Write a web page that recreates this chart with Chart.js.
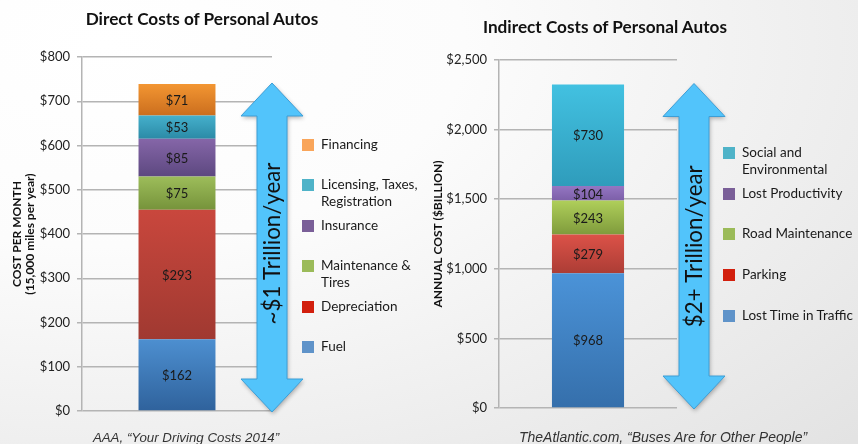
<!DOCTYPE html>
<html><head><meta charset="utf-8">
<script src="https://cdn.jsdelivr.net/npm/chart.js@4.4.1/dist/chart.umd.min.js"></script>
<style>
html,body{margin:0;padding:0;}
body{width:858px;height:444px;overflow:hidden;position:relative;
 background:radial-gradient(ellipse 120% 130% at 12% 10%, #ffffff 0%, #fcfcfc 35%, #e3e3e3 100%);
 font-family:Lato,"Open Sans",sans-serif;color:#1a1a1a;}
.cv{position:absolute;top:0;}
.title{position:absolute;font-weight:bold;font-size:17.2px;white-space:nowrap;transform:translate(-50%,-50%);color:#111;}
.cap{position:absolute;font-family:"Liberation Sans",Arial,sans-serif;font-style:italic;color:#333;white-space:nowrap;transform:translate(-50%,-50%);}
.leg{position:absolute;font-size:13.5px;line-height:17px;white-space:pre;color:#1a1a1a;}
.leg .sw{position:absolute;left:0;top:2px;width:12px;height:12px;}
.leg .tx{position:absolute;left:19px;top:-1px;}
</style></head>
<body>
<canvas id="c1" class="cv" width="430" height="444" style="left:0"></canvas>
<canvas id="c2" class="cv" width="428" height="444" style="left:430px"></canvas>
<div class="title" style="left:202px;top:18px">Direct Costs of Personal Autos</div>
<div class="title" style="left:605px;top:26px">Indirect Costs of Personal Autos</div>
<div class="cap" style="left:186px;top:437px;font-size:13.3px">AAA, “Your Driving Costs 2014”</div>
<div class="cap" style="left:663px;top:437px;font-size:14px">TheAtlantic.com, “Buses Are for Other People”</div>
<div id="leg1"></div><div id="leg2"></div>
<script>
// ---- Data ----
const directCategories = ['Fuel','Depreciation','Maintenance & Tires','Insurance','Licensing, Taxes, Registration','Financing'];
const directLegendLabels = ['Fuel','Depreciation','Maintenance &\nTires','Insurance','Licensing, Taxes,\nRegistration','Financing'];
const directValues = [162, 293, 75, 85, 53, 71];
const directTickMax = 800, directTickStep = 100;

const indirectCategories = ['Lost Time in Traffic','Parking','Road Maintenance','Lost Productivity','Social and Environmental'];
const indirectLegendLabels = ['Lost Time in Traffic','Parking','Road Maintenance','Lost Productivity','Social and\nEnvironmental'];
const indirectValues = [968, 279, 243, 104, 730];
const indirectTickMax = 2500, indirectTickStep = 500;

// ---- Styles ----
const directGrad = [['#4d8fd0','#2f629c'],['#c9473d','#a03931'],['#9dbd5a','#76933b'],['#8566a8','#5d4880'],['#45b0cc','#2b8aa6'],['#f39632','#cb6e1e']];
const directSwatch = ['#5f93c9','#d21f0d','#9bbb59','#7a5f98','#4fb3c8','#f9a55a'];
const indirectGrad = [['#4b93d8','#356fab'],['#dc5248','#ac3d35'],['#afcf5a','#7f9b3c'],['#9476c2','#7c5fa8'],['#42c1e1','#2f9cbb']];
const indirectSwatch = ['#5f93c9','#d21f0d','#9bbb59','#7a5f98','#4fb3c8'];

function cumul(vals){const r=[];let s=0;for(const v of vals){r.push([s,s+v]);s+=v;}return r;}

function makeDatasets(cats, vals, grads){
  const cum = cumul(vals);
  return cats.map((c,i)=>({
    label:c, data:[vals[i]], stack:'s',
    backgroundColor:(ctx)=>{
      const ch=ctx.chart; if(!ch.chartArea) return grads[i][0];
      const y=ch.scales.y;
      const g=ch.ctx.createLinearGradient(0,y.getPixelForValue(cum[i][1]),0,y.getPixelForValue(cum[i][0]));
      g.addColorStop(0,grads[i][0]); g.addColorStop(1,grads[i][1]); return g;
    },
    borderWidth:0, categoryPercentage:1, barPercentage:0.405
  }));
}

const labelPlugin = {
  id:'segLabels',
  afterDatasetsDraw(chart){
    const ctx=chart.ctx; ctx.save();
    ctx.font='13px Lato, sans-serif'; ctx.fillStyle='#1a1a1a';
    ctx.textAlign='center'; ctx.textBaseline='middle';
    chart.data.datasets.forEach((ds,i)=>{
      const el=chart.getDatasetMeta(i).data[0];
      ctx.fillText('$'+ds.data[0], el.x, (el.y+el.base)/2+1);
    });
    ctx.restore();
  }
};

const arrowPlugin = {
  id:'arrow',
  afterDraw(chart, args, opts){
    const ctx=chart.ctx, y=chart.scales.y, a=chart.chartArea;
    const total = chart.data.datasets.reduce((s,d)=>s+d.data[0],0);
    const cx=a.right+opts.dx, top=y.getPixelForValue(total)-1, bot=y.getPixelForValue(0)+1;
    const hw=31, sw=15, hh=33;
    ctx.save();
    ctx.beginPath();
    ctx.moveTo(cx,top); ctx.lineTo(cx+hw,top+hh); ctx.lineTo(cx+sw,top+hh);
    ctx.lineTo(cx+sw,bot-hh); ctx.lineTo(cx+hw,bot-hh); ctx.lineTo(cx,bot);
    ctx.lineTo(cx-hw,bot-hh); ctx.lineTo(cx-sw,bot-hh); ctx.lineTo(cx-sw,top+hh);
    ctx.lineTo(cx-hw,top+hh); ctx.closePath();
    ctx.shadowColor='rgba(0,0,0,0.3)'; ctx.shadowBlur=4; ctx.shadowOffsetX=1; ctx.shadowOffsetY=2;
    ctx.fillStyle='#52c4fb'; ctx.fill();
    ctx.shadowColor='transparent';
    ctx.strokeStyle='#3d9ed6'; ctx.lineWidth=1; ctx.stroke();
    ctx.translate(cx, (top+bot)/2+opts.dy); ctx.rotate(-Math.PI/2);
    ctx.font='22.3px Lato, sans-serif'; ctx.fillStyle='#111';
    ctx.textAlign='center'; ctx.textBaseline='middle';
    ctx.fillText(opts.text,0,1);
    ctx.restore();
  }
};

function makeChart(id, cats, vals, grads, max, step, yTitle, yWidth, titlePad, pad, arrowOpts){
  return new Chart(document.getElementById(id),{
    type:'bar',
    data:{labels:[''], datasets:makeDatasets(cats, vals, grads)},
    options:{
      responsive:false, animation:false, devicePixelRatio:1,
      layout:{padding:pad},
      plugins:{legend:{display:false}, tooltip:{enabled:false}, title:{display:false}, arrow:arrowOpts},
      scales:{
        x:{display:false, stacked:true},
        y:{stacked:true, min:0, max:max,
           ticks:{stepSize:step, padding:7, color:'#222', font:{family:'Lato', size:13},
                  callback:(v)=>'$'+v.toLocaleString('en-US')},
           grid:{color:'#b4b4b4', lineWidth:1.5, tickLength:5, drawTicks:true},
           border:{display:true, color:'#b4b4b4', width:1.5},
           title:{display:true, text:yTitle, color:'#111', font:{family:'Lato', size:12, weight:'bold', lineHeight:1.1}, padding:{top:titlePad, bottom:0}},
           afterFit:(s)=>{s.width=yWidth;}
        }
      }
    },
    plugins:[labelPlugin, arrowPlugin]
  });
}

makeChart('c1', directCategories, directValues, directGrad, directTickMax, directTickStep,
  ['COST PER MONTH','(15,000 miles per year)'], 82, 10.5, {left:0,right:158,top:57,bottom:33}, {dx:0, dy:-4, text:'~$1 Trillion/year'});
makeChart('c2', indirectCategories, indirectValues, indirectGrad, indirectTickMax, indirectTickStep,
  'ANNUAL COST ($BILLION)', 69, 1.5, {left:0,right:181,top:60,bottom:36}, {dx:17, dy:0, text:'$2+ Trillion/year'});

function buildLegend(elId, labels, sw, left, start, step){
  const host=document.getElementById(elId);
  // top-to-bottom order is reverse of stacking order
  const n=labels.length;
  for(let k=0;k<n;k++){
    const i=n-1-k;
    const d=document.createElement('div'); d.className='leg';
    d.style.left=left+'px'; d.style.top=(start+k*step-8)+'px';
    d.innerHTML='<span class="sw" style="background:'+sw[i]+'"></span><span class="tx"></span>';
    d.querySelector('.tx').textContent=labels[i];
    host.appendChild(d);
  }
}
buildLegend('leg1', directLegendLabels, directSwatch, 302, 145, 40.4);
buildLegend('leg2', indirectLegendLabels, indirectSwatch, 723, 153, 40.7);
</script>
</body></html>
